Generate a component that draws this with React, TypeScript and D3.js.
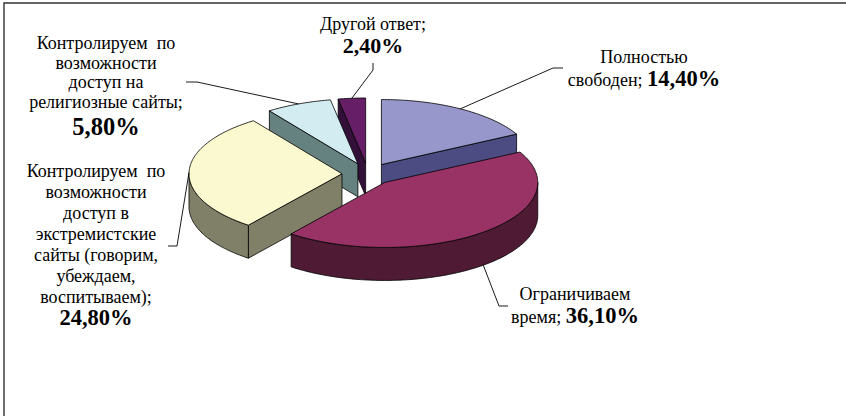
import React from "react";
import * as d3 from "d3";

// data
const categories = [
  "Полностью свободен",
  "Ограничиваем время",
  "Контролируем по возможности доступ в экстремистские сайты (говорим, убеждаем, воспитываем)",
  "Контролируем по возможности доступ на религиозные сайты",
  "Другой ответ",
];
const values = [14.4, 36.1, 24.8, 5.8, 2.4];
const valueLabels = ["14,40%", "36,10%", "24,80%", "5,80%", "2,40%"];
const labelLines = [
  ["Полностью", "свободен; "],
  ["Ограничиваем", "время; "],
  ["Контролируем  по", "возможности", "доступ в", "экстремистские", "сайты (говорим,", "убеждаем,", "воспитываем);"],
  ["Контролируем  по", "возможности", "доступ на", "религиозные сайты;"],
  ["Другой ответ;"],
];
const topColors = ["#9797CB", "#993366", "#FBF9CF", "#D3ECF2", "#661F66"];
const sideColors = ["#4C4C82", "#4F1A34", "#808068", "#658180", "#33103A"];

// label placement (center x, first baseline, line height, percent inline or on its own line)
const labelLayout = [
  { x: 644, y: 63, lh: 23, inline: true, pctSize: 22.5, elbow: [[563, 68], [553, 68]] },
  { x: 575, y: 300, lh: 23, inline: true, pctSize: 22.5, elbow: [[508, 306], [499, 306]] },
  { x: 96, y: 177, lh: 21, inline: false, pctSize: 22.5, pctGap: 22, elbow: [[168, 246], [177, 246]] },
  { x: 106, y: 49, lh: 19.5, inline: false, pctSize: 24.5, pctGap: 27, elbow: [[186, 82], [197, 82]] },
  { x: 373, y: 30, lh: 23, inline: false, pctSize: 22, pctGap: 23, elbow: [[373, 63], [373, 70]] },
];

const W = 846, H = 416;
const cx = 368, cy = 174, rx = 153, ry = 65, depth = 33, explode = 0.17;
const font = "Liberation Serif";

function App() {
  const arcs = d3.pie<number>().sort(null).value((d) => d)(values);
  const sx = d3.scaleLinear().domain([-1, 1]).range([cx - rx, cx + rx]);
  const sy = d3.scaleLinear().domain([-1, 1]).range([cy - ry, cy + ry]);
  const closed = d3.line().curve(d3.curveLinearClosed);
  const open = d3.line();

  const slices = arcs.map((a, i) => {
    const mid = (a.startAngle + a.endAngle) / 2;
    const ox = explode * Math.sin(mid), oy = -explode * Math.cos(mid);
    const pt = (t: number, r = 1, z = 0): [number, number] => [
      sx(r * Math.sin(t) + ox),
      sy(-r * Math.cos(t) + oy) + z,
    ];
    const sample = (t0: number, t1: number) => {
      const n = Math.max(2, Math.ceil((t1 - t0) / 0.02));
      return d3.range(n + 1).map((k) => t0 + ((t1 - t0) * k) / n);
    };
    const apex = pt(0, 0);
    const top = closed([apex, ...sample(a.startAngle, a.endAngle).map((t) => pt(t))]);
    const walls: string[] = [];
    // radial walls facing the viewer
    if (Math.sin(a.startAngle) < -1e-6) {
      walls.push(closed([apex, pt(a.startAngle), pt(a.startAngle, 1, depth), pt(0, 0, depth)]) as string);
    }
    if (Math.sin(a.endAngle) > 1e-6) {
      walls.push(closed([apex, pt(a.endAngle), pt(a.endAngle, 1, depth), pt(0, 0, depth)]) as string);
    }
    // outer wall, front half only
    const f0 = Math.max(a.startAngle, Math.PI / 2), f1 = Math.min(a.endAngle, (3 * Math.PI) / 2);
    if (f1 > f0) {
      const ts = sample(f0, f1);
      walls.push(closed([...ts.map((t) => pt(t)), ...ts.slice().reverse().map((t) => pt(t, 1, depth))]) as string);
    }
    const anchor = pt(mid, 1, Math.cos(mid) < 0 ? depth : 0);
    return { i, mid, top, walls, anchor };
  });

  // back slices first, front ones last
  const order = slices.slice().sort((p, q) => -Math.cos(p.mid) + Math.cos(q.mid));

  return (
    <svg width={W} height={H} style={{ position: "absolute", left: 0, top: 0, background: "#fff" }}>
      <path d={`M4,${H} V3 H${W}`} fill="none" stroke="#333" strokeWidth={1.4} />
      {order.map((s) => (
        <g key={categories[s.i]} stroke="#000" strokeWidth={0.8} strokeLinejoin="round">
          {s.walls.map((d, k) => (
            <path key={k} d={d} fill={sideColors[s.i]} />
          ))}
          <path d={s.top as string} fill={topColors[s.i]} />
        </g>
      ))}
      {slices.map((s) => {
        const L = labelLayout[s.i];
        return (
          <path
            key={"l" + s.i}
            d={open([...(L.elbow as [number, number][]), s.anchor]) as string}
            fill="none"
            stroke="#000"
            strokeWidth={0.9}
          />
        );
      })}
      {labelLines.map((lines, i) => {
        const L = labelLayout[i];
        const n = lines.length;
        return (
          <g key={"t" + i} fill="#000" textAnchor="middle">
            {lines.map((ln, k) => (
              <text key={k} x={L.x} y={L.y + k * L.lh} fontFamily={font} fontSize={18} style={{ whiteSpace: "pre" }}>
                {ln}
                {L.inline && k === n - 1 ? (
                  <tspan fontWeight="bold" fontSize={L.pctSize}>
                    {valueLabels[i]}
                  </tspan>
                ) : null}
              </text>
            ))}
            {!L.inline ? (
              <text x={L.x} y={L.y + (n - 1) * L.lh + (L.pctGap || 23)} fontFamily={font} fontSize={L.pctSize} fontWeight="bold">
                {valueLabels[i]}
              </text>
            ) : null}
          </g>
        );
      })}
    </svg>
  );
}

export default App;
